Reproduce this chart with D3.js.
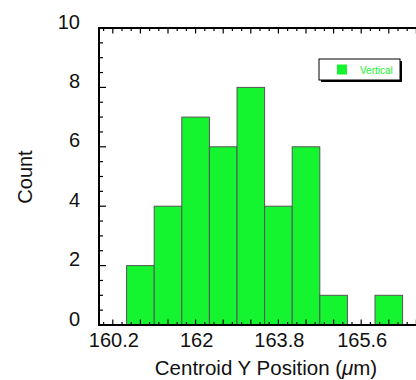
<!DOCTYPE html>
<html>
<head>
<meta charset="utf-8">
<script src="https://cdn.jsdelivr.net/npm/d3@7"></script>
<style>
html,body{margin:0;padding:0;background:#fff;}
svg{display:block;font-family:"Liberation Sans",Arial,Helvetica,sans-serif;}
</style>
</head>
<body>
<svg id="chart" width="416" height="380"></svg>
<script>
// Data
const binStarts = [160.5, 161.1, 161.7, 162.3, 162.9, 163.5, 164.1, 164.7, 165.3, 165.9];
const binWidth = 0.6;
const counts = [2, 4, 7, 6, 8, 4, 6, 1, 0, 1];
const xTickLabels = [160.2, 162, 163.8, 165.6];
const yTickLabels = [0, 2, 4, 6, 8, 10];
const seriesName = "Vertical";

const svg = d3.select("#chart");
const x = d3.scaleLinear().domain([159.9, 167.1]).range([99, 430.2]);
const y = d3.scaleLinear().domain([0, 10]).range([325, 28]);
const green = "#14f530";

// bars
svg.append("g").selectAll("rect").data(binStarts.map((s, i) => ({s, c: counts[i]})).filter(d => d.c > 0))
  .join("rect")
  .attr("x", d => x(d.s))
  .attr("width", d => x(d.s + binWidth) - x(d.s))
  .attr("y", d => y(d.c))
  .attr("height", d => y(0) - y(d.c))
  .attr("fill", green)
  .attr("stroke", "#555")
  .attr("stroke-width", 1);

// ticks
const xMinor = d3.range(0, 37).map(i => +(160 + i * 0.2).toFixed(2));
const xMajor = d3.range(0, 12).map(i => +(160.2 + i * 0.6).toFixed(2));
const yMinor = d3.range(0, 21).map(i => i * 0.5);
const yMajor = d3.range(0, 6).map(i => i * 2);

const axisG = svg.append("g").attr("stroke", "#000");
function tickLines(vals, len, orient) {
  vals.forEach(v => {
    if (orient === "bottom") axisG.append("line").attr("x1", x(v)).attr("x2", x(v)).attr("y1", y(0)).attr("y2", y(0) - len);
    if (orient === "top") axisG.append("line").attr("x1", x(v)).attr("x2", x(v)).attr("y1", y(10)).attr("y2", y(10) + len);
    if (orient === "left") axisG.append("line").attr("y1", y(v)).attr("y2", y(v)).attr("x1", x.range()[0]).attr("x2", x.range()[0] + len);
  });
}
axisG.attr("stroke-width", 1.2);
tickLines(xMinor.filter(v => !xMajor.includes(v)), 3, "bottom");
tickLines(xMajor, 5.5, "bottom");
tickLines(xMinor.filter(v => !xMajor.includes(v)), 3, "top");
tickLines(xMajor, 5.5, "top");
tickLines(yMinor.filter(v => !yMajor.includes(v)), 4, "left");
tickLines(yMajor, 7, "left");

// frame lines
axisG.append("line").attr("x1", 99).attr("x2", 416).attr("y1", y(0)).attr("y2", y(0)).attr("stroke-width", 2);
axisG.append("line").attr("x1", 99).attr("x2", 416).attr("y1", y(10)).attr("y2", y(10)).attr("stroke-width", 2);
axisG.append("line").attr("x1", 99).attr("x2", 99).attr("y1", y(0) + 1).attr("y2", y(10) - 1).attr("stroke-width", 2);

// tick labels
svg.append("g").selectAll("text").data(xTickLabels).join("text")
  .attr("x", d => x(d) + 1).attr("y", 347)
  .attr("text-anchor", "middle").attr("font-size", 20).attr("fill", "#111")
  .text(d => d);
svg.append("g").selectAll("text").data(yTickLabels).join("text")
  .attr("x", 80).attr("y", d => y(d) + 0.5)
  .attr("text-anchor", "end").attr("font-size", 20).attr("fill", "#111")
  .text(d => d);

// axis titles
const xt = svg.append("text").attr("x", 266).attr("y", 375).attr("text-anchor", "middle")
  .attr("font-size", 20.5).attr("fill", "#111");
xt.append("tspan").text("Centroid Y Position (");
xt.append("tspan").attr("font-style", "italic").text("\u03bc");
xt.append("tspan").text("m)");
svg.append("text").attr("transform", "translate(32,177) rotate(-90)").attr("text-anchor", "middle")
  .attr("font-size", 20).attr("fill", "#111").text("Count");

// legend
const lg = svg.append("g");
lg.append("rect").attr("x", 321).attr("y", 61).attr("width", 81).attr("height", 21).attr("fill", "#000");
lg.append("rect").attr("x", 319).attr("y", 59).attr("width", 81).attr("height", 21).attr("fill", "#fff").attr("stroke", "#000").attr("stroke-width", 1);
lg.append("rect").attr("x", 337).attr("y", 64.5).attr("width", 10).attr("height", 10).attr("fill", green);
lg.append("text").attr("x", 360).attr("y", 73.5).attr("font-size", 10).attr("fill", green).text(seriesName);
</script>
</body>
</html>
